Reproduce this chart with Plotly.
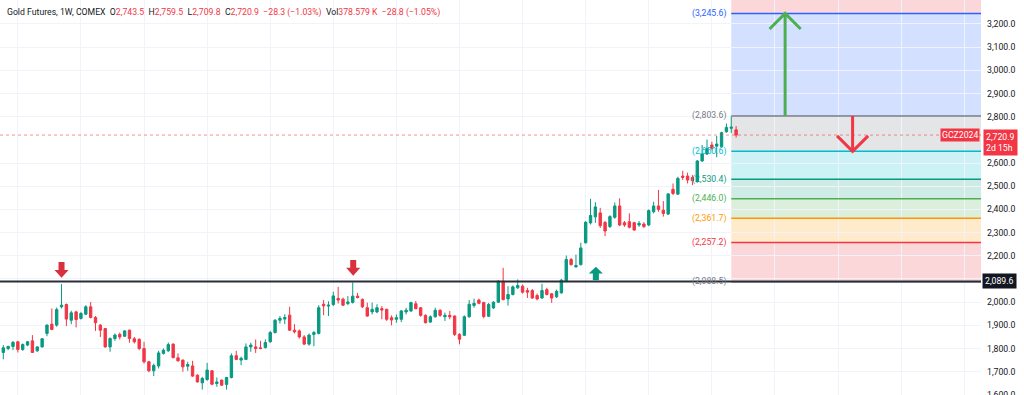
import plotly.graph_objects as go

# ---------------- data (weekly candles, Gold Futures COMEX) ----------------
opens = [1783, 1800, 1809, 1829, 1796, 1815, 1833, 1790, 1807, 1865,
         1905, 1901, 1980, 1990, 1922, 1958, 1930, 1948, 1980, 1934,
         1901, 1886, 1807, 1843, 1861, 1853, 1879, 1842, 1840, 1800,
         1743, 1704, 1725, 1779, 1790, 1819, 1760, 1750, 1724, 1725,
         1685, 1652, 1666, 1704, 1649, 1664, 1645, 1675, 1769, 1750,
         1753, 1807, 1807, 1803, 1804, 1829, 1869, 1922, 1927, 1944,
         1879, 1876, 1850, 1819, 1861, 1865, 1991, 1983, 1990, 2016,
         2013, 1994, 1999, 2026, 2012, 1976, 1958, 1958, 1972, 1969,
         1933, 1926, 1926, 1958, 1962, 1993, 1976, 1943, 1914, 1937,
         1965, 1937, 1943, 1940, 1861, 1857, 1937, 1986, 2009, 1999,
         1939, 1975, 2000, 2090, 2014, 2033, 2062, 2069, 2050, 2050,
         2029, 2018, 2054, 2036, 2023, 2040, 2090, 2184, 2152, 2162,
         2256, 2342, 2368, 2385, 2344, 2326, 2366, 2415, 2343, 2347,
         2343, 2333, 2337, 2333, 2390, 2415, 2397, 2380, 2487, 2466,
         2544, 2544, 2538, 2520, 2609, 2639, 2678, 2673, 2671, 2735,
         2750, 2743.5]
highs = [1815, 1812, 1832, 1833, 1822, 1833, 1858, 1810, 1845, 1904,
         1973, 1977, 2078, 1994, 1963, 1963, 1958, 1987, 2001, 1940,
         1905, 1888, 1848, 1865, 1869, 1879, 1882, 1850, 1843, 1829,
         1747, 1735, 1790, 1800, 1826, 1822, 1779, 1753, 1743, 1747,
         1689, 1678, 1738, 1707, 1675, 1666, 1678, 1779, 1790, 1765,
         1822, 1825, 1839, 1833, 1839, 1876, 1927, 1940, 1948, 1980,
         1905, 1882, 1858, 1865, 1876, 1987, 2009, 2004, 2045, 2066,
         2020, 2026, 2085, 2040, 2016, 1998, 1998, 1991, 1983, 1972,
         1943, 1947, 1966, 1976, 2002, 2005, 1979, 1947, 1943, 1976,
         1969, 1955, 1962, 1943, 1866, 1943, 2009, 2015, 2015, 2001,
         1997, 2004, 2095, 2148, 2069, 2072, 2098, 2076, 2062, 2057,
         2037, 2079, 2062, 2040, 2054, 2100, 2201, 2191, 2205, 2256,
         2349, 2446, 2431, 2407, 2350, 2375, 2430, 2448, 2350, 2383,
         2347, 2350, 2345, 2400, 2433, 2484, 2436, 2470, 2512, 2541,
         2567, 2559, 2548, 2613, 2678, 2702, 2692, 2717, 2735, 2771,
         2801.8, 2759.5]
lows = [1753, 1793, 1793, 1783, 1790, 1810, 1781, 1786, 1804, 1853,
        1879, 1894, 1973, 1897, 1905, 1891, 1925, 1944, 1930, 1876,
        1850, 1804, 1786, 1833, 1839, 1850, 1825, 1822, 1793, 1735,
        1698, 1681, 1714, 1774, 1786, 1757, 1743, 1700, 1704, 1678,
        1653, 1623, 1661, 1642, 1635, 1638, 1623, 1671, 1750, 1728,
        1750, 1786, 1781, 1797, 1800, 1825, 1865, 1908, 1905, 1876,
        1865, 1843, 1815, 1812, 1810, 1861, 1944, 1940, 1983, 1994,
        1983, 1987, 1994, 2016, 1975, 1937, 1947, 1952, 1926, 1919,
        1900, 1911, 1914, 1947, 1958, 1969, 1937, 1909, 1911, 1933,
        1937, 1919, 1926, 1854, 1818, 1854, 1933, 1976, 1991, 1930,
        1937, 1971, 1997, 2008, 1985, 2029, 2057, 2037, 2018, 2014,
        2008, 2014, 2029, 1997, 2018, 2037, 2086, 2158, 2150, 2158,
        2253, 2335, 2342, 2320, 2285, 2320, 2360, 2328, 2325, 2318,
        2308, 2325, 2320, 2328, 2383, 2390, 2369, 2376, 2462, 2462,
        2527, 2512, 2505, 2515, 2606, 2635, 2656, 2625, 2668, 2731,
        2730, 2709.8]
closes = [1803, 1809, 1827, 1796, 1817, 1829, 1783, 1807, 1842, 1901,
          1882, 1968, 1987, 1927, 1954, 1925, 1951, 1980, 1934, 1911,
          1879, 1807, 1843, 1858, 1850, 1876, 1843, 1829, 1800, 1743,
          1704, 1727, 1781, 1793, 1817, 1761, 1747, 1721, 1731, 1681,
          1656, 1671, 1707, 1646, 1656, 1642, 1675, 1769, 1753, 1758,
          1807, 1815, 1800, 1800, 1826, 1869, 1922, 1930, 1934, 1879,
          1872, 1850, 1819, 1858, 1869, 1976, 1984, 1987, 2027, 2009,
          1987, 2001, 2026, 2020, 1980, 1940, 1969, 1976, 1966, 1926,
          1923, 1933, 1962, 1965, 1998, 1972, 1943, 1911, 1937, 1965,
          1943, 1943, 1937, 1861, 1840, 1937, 1991, 1995, 1995, 1938,
          1990, 2000, 2090, 2011, 2033, 2066, 2072, 2043, 2043, 2018,
          2014, 2050, 2033, 2018, 2047, 2095, 2184, 2162, 2158, 2234,
          2345, 2374, 2411, 2330, 2307, 2369, 2415, 2333, 2333, 2323,
          2311, 2340, 2326, 2395, 2415, 2400, 2383, 2467, 2469, 2534,
          2538, 2527, 2524, 2609, 2639, 2663, 2663, 2682, 2731, 2754,
          2755, 2720.9]
weeks = list(range(len(opens)))

# price-axis ticks (2,700 is hidden under the last-price tag in the reference)
price_ticks = [1600, 1700, 1800, 1900, 2000, 2100, 2200, 2300, 2400, 2500,
               2600, 2800, 2900, 3000, 3100, 3200]

# Fibonacci retracement (anchored on candle 150)
fib_anchor = 150
fib_levels = [2088.5, 2257.2, 2361.7, 2446.0, 2530.4, 2650.6, 2803.6, 3245.6, 3960.7]
fib_colors = ["#787b86", "#f23645", "#ff9800", "#4caf50", "#089981",
              "#00bcd4", "#787b86", "#2962ff", "#f23645"]
fib_fills = ["rgba(120,123,134,0.2)", "rgba(242,54,69,0.2)", "rgba(255,152,0,0.2)",
             "rgba(76,175,80,0.2)", "rgba(8,153,129,0.2)", "rgba(0,188,212,0.2)",
             "rgba(120,123,134,0.2)", "rgba(41,98,255,0.2)", "rgba(242,54,69,0.2)"]

support_price = 2089.6
last_price = 2720.9

# block arrows: (week, tail, head base, tip prices)
down_arrows = [(12.0, 2173, 2139, 2105), (72.1, 2182, 2148, 2114)]
up_arrows = [(122.1, 2153, 2124, 2095)]
# long target arrows (week, from, to)
target_up = (161.1, 2803.6, 3245.6)
target_down = (175.0, 2803.6, 2650.6)

X_MIN, X_MAX = -0.68, 201.46
Y_MIN, Y_MAX = 1599.5, 3303.5

UP, DN = "#089981", "#f23645"
FONT = "Roboto, Arial, sans-serif"
FS = 8.7

fig = go.Figure()
fig.add_trace(go.Candlestick(
    x=weeks, open=opens, high=highs, low=lows, close=closes,
    increasing=dict(line=dict(color=UP, width=1), fillcolor=UP),
    decreasing=dict(line=dict(color=DN, width=1), fillcolor=DN),
    whiskerwidth=0, showlegend=False, hoverinfo="skip"))

shapes = []
# fib fills and lines
for k in range(1, len(fib_levels)):
    shapes.append(dict(type="rect", xref="x", yref="y", x0=fib_anchor, x1=X_MAX,
                       y0=fib_levels[k - 1], y1=fib_levels[k],
                       fillcolor=fib_fills[k], line=dict(width=0), layer="below"))
for v, c in zip(fib_levels, fib_colors):
    shapes.append(dict(type="line", xref="x", yref="y", x0=fib_anchor, x1=X_MAX,
                       y0=v, y1=v, line=dict(color=c, width=1.5)))
# support line
shapes.append(dict(type="line", xref="x", yref="y", x0=X_MIN, x1=X_MAX,
                   y0=support_price, y1=support_price, line=dict(color="#2a2e39", width=2)))
# last price dotted line
shapes.append(dict(type="line", xref="x", yref="y", x0=X_MIN, x1=X_MAX,
                   y0=last_price, y1=last_price,
                   line=dict(color="rgba(242,54,69,0.55)", width=1, dash="dot")))


def block_arrow(cx, y_tail, y_head, y_tip, color):
    sw, hw = 0.62, 1.45
    path = (f"M {cx-sw},{y_tail} L {cx+sw},{y_tail} L {cx+sw},{y_head} "
            f"L {cx+hw},{y_head} L {cx},{y_tip} L {cx-hw},{y_head} "
            f"L {cx-sw},{y_head} Z")
    return dict(type="path", xref="x", yref="y", path=path,
                fillcolor=color, line=dict(width=0))


for cx, a, b, c in down_arrows:
    shapes.append(block_arrow(cx, a, b, c, "#d9303e"))
for cx, tip, head, tail in up_arrows:
    shapes.append(block_arrow(cx, tail, head, tip, "#089981"))

# long target arrows
cx, y0, y1 = target_up
shapes.append(dict(type="line", xref="x", yref="y", x0=cx, x1=cx, y0=y0, y1=y1,
                   line=dict(color="#4caf50", width=3)))
shapes.append(dict(type="path", xref="x", yref="y",
                   path=f"M {cx-3.2},{y1-67} L {cx},{y1} L {cx+3.2},{y1-67}",
                   line=dict(color="#4caf50", width=3)))
cx, y0, y1 = target_down
shapes.append(dict(type="line", xref="x", yref="y", x0=cx, x1=cx, y0=y0, y1=y1,
                   line=dict(color="#f23645", width=3)))
shapes.append(dict(type="path", xref="x", yref="y",
                   path=f"M {cx-3.2},{y1+67} L {cx},{y1} L {cx+3.2},{y1+67}",
                   line=dict(color="#f23645", width=3)))

annotations = []
# fib labels
for v, c in zip(fib_levels, fib_colors):
    if v > Y_MAX:
        continue
    annotations.append(dict(x=fib_anchor, y=v, xref="x", yref="y", xanchor="right",
                            yanchor="middle", xshift=-3, showarrow=False,
                            text=f"({v:,.1f})", font=dict(family=FONT, size=FS, color=c)))

# header
NB = "\u00a0"
R = '<span style="color:#f23645">'
E = "</span>"
header = (f"Gold Futures, 1W, COMEX{NB}{NB}O{R}2,743.5{E}{NB}{NB}H{R}2,759.5{E}"
          f"{NB}{NB}L{R}2,709.8{E}{NB}{NB}C{R}2,720.9{NB}{NB}\u221228.3 (\u22121.03%){E}"
          f"{NB}{NB}Vol{R}378.579{NB}K{NB}{NB}\u221228.8 (\u22121.05%){E}")
annotations.append(dict(x=0, y=1, xref="paper", yref="paper", xanchor="left", yanchor="top",
                        xshift=5, yshift=-5, showarrow=False, text=header,
                        font=dict(family=FONT, size=FS, color="#131722")))

# price-axis tags
annotations.append(dict(x=1, y=support_price, xref="paper", yref="y", xanchor="left",
                        yanchor="middle", xshift=1, showarrow=False, text="2,089.6",
                        bgcolor="#131722", borderpad=2,
                        font=dict(family=FONT, size=FS, color="white")))
annotations.append(dict(x=1, y=last_price, xref="paper", yref="y", xanchor="left",
                        yanchor="top", xshift=2, yshift=6, showarrow=False,
                        text="2,720.9<br>2d 15h", bgcolor="#f23645", borderpad=2,
                        align="left", font=dict(family=FONT, size=FS, color="white")))
annotations.append(dict(x=1, y=last_price, xref="paper", yref="y", xanchor="right",
                        yanchor="middle", xshift=-1, showarrow=False, text="GCZ2024",
                        bgcolor="#f23645", borderpad=1,
                        font=dict(family=FONT, size=FS, color="white")))

fig.update_layout(
    width=1024, height=395,
    margin=dict(l=0, r=43, t=0, b=0, autoexpand=False),
    paper_bgcolor="white", plot_bgcolor="white",
    shapes=shapes, annotations=annotations,
    showlegend=False, hovermode=False,
    xaxis=dict(range=[X_MIN, X_MAX], showticklabels=False, tick0=3, dtick=13,
               showgrid=True, gridcolor="#f0f3fa", zeroline=False, automargin=False,
               rangeslider=dict(visible=False), fixedrange=True),
    yaxis=dict(range=[Y_MIN, Y_MAX], side="right", tickmode="array",
               tickvals=price_ticks, tickformat=",.1f", showgrid=True,
               gridcolor="#f0f3fa", zeroline=False, ticks="", ticklabelstandoff=5,
               ticklabeloverflow="allow", automargin=False, fixedrange=True,
               tickfont=dict(family=FONT, size=FS, color="#131722")),
)

fig.write_html(
    "out.html",
    config={"displayModeBar": False, "staticPlot": True},
    post_script="document.body.style.margin='0';document.body.style.overflow='hidden';",
)
